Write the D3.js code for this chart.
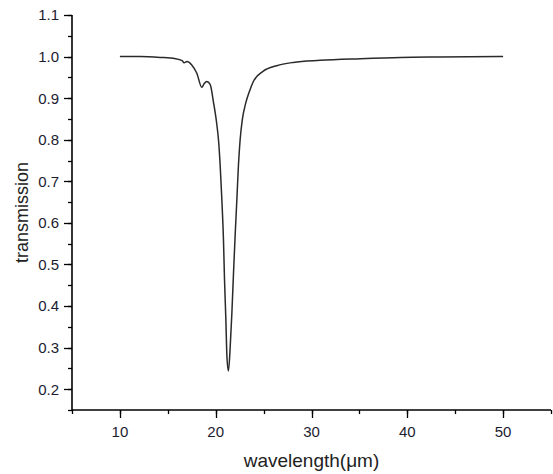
<!DOCTYPE html>
<html>
<head>
<meta charset="utf-8">
<script src="https://cdn.jsdelivr.net/npm/d3@7"></script>
<style>
  body { margin: 0; background: #fff; }
  text { font-family: "Liberation Sans", Arial, sans-serif; }
</style>
</head>
<body>
<div id="chart"></div>
<script>
// wavelength (um) and transmission
let wavelength = [10, 12.1, 14.2, 15.8, 16.5, 16.7, 17.0, 17.5, 18.03, 18.55, 18.8, 19.07, 19.42, 19.77, 20.12, 20.29, 20.47, 20.64, 20.81, 20.92, 21.06, 21.17, 21.33, 21.51, 21.69, 21.86, 22.03, 22.21, 22.37, 22.55, 22.79, 23.1, 23.5, 23.93, 24.97, 26.37, 28.1, 30.9, 35.1, 39.3, 43.4, 50];
let transmission = [1.0, 1.0, 0.998, 0.995, 0.99, 0.985, 0.988, 0.98, 0.96, 0.926, 0.935, 0.94, 0.933, 0.89, 0.836, 0.80, 0.737, 0.657, 0.56, 0.464, 0.368, 0.28, 0.244, 0.30, 0.384, 0.48, 0.57, 0.657, 0.737, 0.80, 0.85, 0.885, 0.915, 0.94, 0.965, 0.978, 0.986, 0.991, 0.995, 0.998, 0.999, 1.0];

let xTicks = [10, 20, 30, 40, 50];
let yTicks = [0.2, 0.3, 0.4, 0.5, 0.6, 0.7, 0.8, 0.9, 1.0, 1.1];

let width = 553,
height = 474;

let svg = d3.select("#chart")
  .append("svg")
  .attr("width", width)
  .attr("height", height);

let x = d3.scaleLinear().domain([5, 55]).range([72, 551]);
let y = d3.scaleLinear().domain([0.15, 1.1]).range([410, 15]);

let data = wavelength.map((w, i) => ({w: w, t: transmission[i]}));

// minor ticks
let xMinor = d3.range(5, 55.1, 5);
let yMinor = d3.range(0.15, 1.101, 0.05);

let axisColor = "#000";

// y axis
let gy = svg.append("g");
gy.append("line")
  .attr("x1", x(5)).attr("x2", x(5))
  .attr("y1", y(0.15)).attr("y2", y(1.1))
  .attr("stroke", axisColor).attr("stroke-width", 1.6);
gy.selectAll(".minor")
  .data(yMinor)
  .join("line")
  .attr("x1", x(5)).attr("x2", x(5) - 4)
  .attr("y1", d => Math.round(y(d)) + 0.5).attr("y2", d => Math.round(y(d)) + 0.5)
  .attr("stroke", axisColor).attr("stroke-width", 1.3);
gy.selectAll(".major")
  .data(yTicks)
  .join("line")
  .attr("x1", x(5)).attr("x2", x(5) - 8)
  .attr("y1", d => Math.round(y(d)) + 0.5).attr("y2", d => Math.round(y(d)) + 0.5)
  .attr("stroke", axisColor).attr("stroke-width", 1.3);
gy.selectAll("text")
  .data(yTicks)
  .join("text")
  .attr("x", 59)
  .attr("y", d => y(d))
  .attr("dy", "0.36em")
  .attr("text-anchor", "end")
  .attr("font-size", 15)
  .attr("fill", "#1c1c30")
  .text(d3.format(".1f"));

// x axis
let gx = svg.append("g");
gx.append("line")
  .attr("x1", x(5)).attr("x2", x(55))
  .attr("y1", y(0.15)).attr("y2", y(0.15))
  .attr("stroke", axisColor).attr("stroke-width", 1.6);
gx.selectAll(".minor")
  .data(xMinor)
  .join("line")
  .attr("x1", d => Math.round(x(d)) + 0.5).attr("x2", d => Math.round(x(d)) + 0.5)
  .attr("y1", y(0.15)).attr("y2", y(0.15) + 4)
  .attr("stroke", axisColor).attr("stroke-width", 1.3);
gx.selectAll(".major")
  .data(xTicks)
  .join("line")
  .attr("x1", d => Math.round(x(d)) + 0.5).attr("x2", d => Math.round(x(d)) + 0.5)
  .attr("y1", y(0.15)).attr("y2", y(0.15) + 8)
  .attr("stroke", axisColor).attr("stroke-width", 1.3);
gx.selectAll("text")
  .data(xTicks)
  .join("text")
  .attr("x", d => x(d))
  .attr("y", 437)
  .attr("text-anchor", "middle")
  .attr("font-size", 15)
  .attr("fill", "#1c1c30")
  .text(d => d);

// titles
svg.append("text")
  .attr("x", (x(5) + x(55)) / 2)
  .attr("y", 467)
  .attr("text-anchor", "middle")
  .attr("font-size", 19)
  .attr("fill", "#222")
  .text("wavelength(μm)");

svg.append("text")
  .attr("transform", "translate(28," + ((y(0.15) + y(1.1)) / 2) + ") rotate(-90)")
  .attr("text-anchor", "middle")
  .attr("font-size", 18)
  .attr("fill", "#222")
  .text("transmission");

// curve
let line = d3.line()
  .x(d => x(d.w))
  .y(d => y(d.t))
  .curve(d3.curveMonotoneX);

svg.append("path")
  .datum(data)
  .attr("d", line)
  .attr("fill", "none")
  .attr("stroke", "#2a2a2a")
  .attr("stroke-width", 1.5);
</script>
</body>
</html>
